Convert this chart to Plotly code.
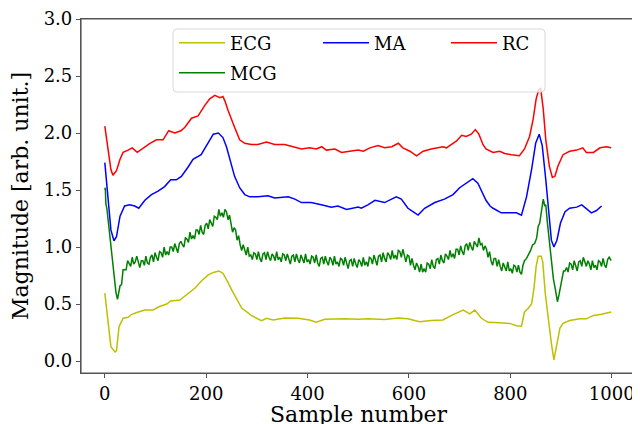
import plotly.graph_objects as go

# ---------------- data ----------------
ecg_x = [0, 12, 20, 23, 28, 36, 46, 53, 66, 79, 95, 108, 122, 130, 148, 161, 178, 190, 204, 214,
         225, 233, 237, 243, 250, 270, 289, 309, 319, 332, 355, 381, 404, 417, 434, 454, 473, 500,
         519, 552, 579, 598, 621, 644, 667, 684, 694, 707, 720, 730, 743, 756, 779, 799, 812, 822,
         828, 835, 842, 847, 851, 855, 861, 864, 869, 875, 881, 886, 891, 898, 904, 917, 937, 950,
         964, 980, 999]
ecg_y = [0.595, 0.126, 0.08, 0.09, 0.30, 0.375, 0.384, 0.41, 0.43, 0.448, 0.448, 0.478, 0.50, 0.527,
         0.535, 0.58, 0.64, 0.70, 0.756, 0.777, 0.79, 0.77, 0.74, 0.69, 0.626, 0.465, 0.40, 0.355,
         0.375, 0.36, 0.378, 0.375, 0.36, 0.34, 0.367, 0.37, 0.37, 0.367, 0.37, 0.364, 0.378, 0.37,
         0.345, 0.355, 0.36, 0.40, 0.42, 0.447, 0.413, 0.447, 0.375, 0.34, 0.335, 0.33, 0.31, 0.305,
         0.43, 0.46, 0.50, 0.65, 0.83, 0.92, 0.92, 0.87, 0.59, 0.36, 0.155, 0.01, 0.126, 0.29, 0.33,
         0.355, 0.37, 0.37, 0.40, 0.41, 0.43]

# MCG: fast initial drop, noisy body (every 3rd sample), QRS spike, noisy tail
mcg_head_x = [0, 1, 2, 4, 6, 8, 10, 13, 16, 19, 22, 25, 27]
mcg_head_y = [1.50, 1.52, 1.38, 1.34, 1.26, 1.17, 1.09, 0.96, 0.83, 0.70, 0.60, 0.54, 0.60]
mcg_body_x = list(range(30, 829, 3))
mcg_body_y = [
    0.66, 0.67, 0.80, 0.80, 0.80, 0.88, 0.86, 0.83, 0.91, 0.85,
    0.87, 0.92, 0.87, 0.82, 0.88, 0.88, 0.84, 0.92, 0.86, 0.85,
    0.91, 0.93, 0.87, 0.95, 0.91, 0.88, 0.96, 0.95, 0.91, 1.00,
    0.93, 0.96, 0.93, 1.00, 1.00, 0.96, 1.03, 0.98, 0.95, 1.03,
    1.05, 1.02, 1.00, 1.08, 1.07, 1.04, 1.13, 1.07, 1.10, 1.07,
    1.15, 1.15, 1.11, 1.19, 1.13, 1.11, 1.19, 1.21, 1.16, 1.24,
    1.20, 1.18, 1.27, 1.26, 1.24, 1.33, 1.27, 1.30, 1.26, 1.33,
    1.31, 1.24, 1.28, 1.19, 1.13, 1.17, 1.15, 1.06, 1.10, 1.02,
    0.97, 1.02, 0.98, 0.93, 1.00, 0.92, 0.93, 0.89, 0.95, 0.94,
    0.89, 0.96, 0.90, 0.87, 0.94, 0.95, 0.89, 0.96, 0.91, 0.88,
    0.94, 0.92, 0.88, 0.96, 0.89, 0.91, 0.87, 0.94, 0.93, 0.88,
    0.94, 0.88, 0.85, 0.92, 0.93, 0.87, 0.94, 0.89, 0.86, 0.93,
    0.90, 0.86, 0.94, 0.87, 0.89, 0.85, 0.92, 0.91, 0.86, 0.93,
    0.86, 0.83, 0.90, 0.91, 0.85, 0.92, 0.87, 0.84, 0.91, 0.89,
    0.84, 0.92, 0.85, 0.87, 0.83, 0.90, 0.89, 0.84, 0.91, 0.85,
    0.81, 0.88, 0.89, 0.83, 0.90, 0.85, 0.82, 0.89, 0.87, 0.83,
    0.91, 0.84, 0.87, 0.83, 0.91, 0.90, 0.85, 0.93, 0.87, 0.84,
    0.92, 0.93, 0.87, 0.95, 0.90, 0.87, 0.95, 0.93, 0.89, 0.97,
    0.90, 0.93, 0.89, 0.97, 0.96, 0.91, 0.98, 0.91, 0.87, 0.93,
    0.92, 0.84, 0.90, 0.84, 0.80, 0.86, 0.83, 0.78, 0.85, 0.78,
    0.81, 0.78, 0.86, 0.85, 0.81, 0.89, 0.83, 0.81, 0.89, 0.90,
    0.85, 0.93, 0.88, 0.86, 0.94, 0.92, 0.89, 0.97, 0.91, 0.94,
    0.90, 0.98, 0.98, 0.93, 1.01, 0.96, 0.93, 1.01, 1.03, 0.97,
    1.04, 1.00, 0.97, 1.05, 1.03, 1.00, 1.08, 1.02, 1.03, 0.97,
    1.01, 0.98, 0.91, 0.96, 0.88, 0.84, 0.90, 0.90, 0.83, 0.89,
    0.83, 0.79, 0.86, 0.83, 0.79, 0.87, 0.79, 0.81, 0.77, 0.84,
    0.83, 0.78, 0.84, 0.78, 0.76, 0.84, 0.88]
mcg_spike_x = [832, 836, 840, 844, 848, 852, 855, 858, 862, 865, 868, 870, 873, 876, 879, 882,
               885, 888, 891, 893, 896, 899, 902, 905]
mcg_spike_y = [0.90, 0.93, 0.97, 1.02, 1.03, 1.08, 1.18, 1.21, 1.33, 1.42, 1.36, 1.37, 1.22, 1.10,
               0.95, 0.82, 0.72, 0.65, 0.55, 0.52, 0.58, 0.66, 0.74, 0.79]
mcg_tail_x = list(range(908, 996, 3)) + [999]
mcg_tail_y = [0.79, 0.82, 0.78, 0.86, 0.85, 0.80, 0.88, 0.82, 0.79, 0.87,
              0.88, 0.83, 0.91, 0.87, 0.83, 0.88, 0.85, 0.80, 0.88, 0.82,
              0.84, 0.80, 0.88, 0.87, 0.83, 0.90, 0.84, 0.82, 0.89, 0.91,
              0.88]
mcg_x = mcg_head_x + mcg_body_x + mcg_spike_x + mcg_tail_x
mcg_y = mcg_head_y + mcg_body_y + mcg_spike_y + mcg_tail_y

ma_x = [0, 5, 12, 18, 23, 30, 39, 49, 59, 67, 79, 92, 105, 118, 130, 141, 151, 164, 174, 190,
        204, 214, 224, 233, 240, 247, 256, 266, 276, 286, 302, 322, 335, 362, 375, 388, 407, 427,
        447, 460, 477, 500, 506, 519, 533, 552, 566, 575, 585, 598, 608, 618, 631, 651, 670, 687,
        700, 713, 726, 736, 746, 752, 760, 766, 782, 799, 812, 822, 832, 842, 850, 857, 863, 870,
        877, 881, 886, 892, 899, 908, 917, 931, 941, 950, 960, 970, 980]
ma_y = [1.74, 1.47, 1.15, 1.055, 1.09, 1.27, 1.36, 1.37, 1.36, 1.34, 1.41, 1.46, 1.49, 1.53, 1.59,
        1.59, 1.62, 1.70, 1.77, 1.81, 1.91, 1.99, 2.00, 1.96, 1.88, 1.77, 1.62, 1.52, 1.46, 1.44,
        1.44, 1.45, 1.43, 1.44, 1.42, 1.39, 1.39, 1.37, 1.35, 1.36, 1.33, 1.35, 1.34, 1.37, 1.41,
        1.39, 1.42, 1.44, 1.42, 1.34, 1.31, 1.28, 1.34, 1.39, 1.42, 1.46, 1.52, 1.56, 1.60, 1.56,
        1.46, 1.41, 1.36, 1.34, 1.30, 1.30, 1.30, 1.28, 1.44, 1.68, 1.91, 1.99, 1.89, 1.59, 1.24,
        1.06, 1.00, 1.06, 1.21, 1.31, 1.34, 1.35, 1.37, 1.34, 1.30, 1.32, 1.36]

rc_x = [0, 7, 12, 16, 23, 30, 36, 46, 54, 64, 76, 89, 102, 115, 126, 138, 150, 158, 171, 184,
        197, 207, 217, 227, 233, 237, 243, 247, 256, 266, 276, 289, 302, 319, 335, 355, 372, 388,
        404, 417, 428, 437, 454, 467, 483, 500, 510, 523, 539, 552, 566, 579, 588, 602, 615, 628,
        644, 657, 667, 674, 684, 694, 704, 713, 723, 731, 738, 746, 752, 766, 779, 789, 802, 818,
        828, 838, 845, 851, 856, 860, 865, 870, 877, 883, 888, 894, 904, 917, 931, 943, 950, 964,
        977, 990, 999]
rc_y = [2.06, 1.83, 1.68, 1.63, 1.67, 1.77, 1.83, 1.85, 1.87, 1.83, 1.87, 1.91, 1.94, 1.94, 2.02,
        2.00, 2.02, 2.05, 2.13, 2.15, 2.24, 2.30, 2.33, 2.31, 2.32, 2.28, 2.20, 2.15, 2.05, 1.94,
        1.91, 1.90, 1.90, 1.92, 1.90, 1.90, 1.88, 1.86, 1.87, 1.86, 1.88, 1.85, 1.86, 1.83, 1.84,
        1.85, 1.84, 1.87, 1.89, 1.87, 1.88, 1.91, 1.87, 1.84, 1.80, 1.84, 1.86, 1.87, 1.88, 1.87,
        1.90, 1.93, 1.98, 1.97, 1.99, 2.03, 1.99, 1.90, 1.86, 1.83, 1.84, 1.82, 1.81, 1.80, 1.86,
        1.97, 2.12, 2.30, 2.38, 2.39, 2.21, 1.94, 1.71, 1.61, 1.62, 1.71, 1.81, 1.84, 1.85, 1.87,
        1.83, 1.83, 1.87, 1.88, 1.87]

series_names = ["ECG", "MCG", "MA", "RC"]
x_ticks = [0, 200, 400, 600, 800, 1000]
y_ticks = [0.0, 0.5, 1.0, 1.5, 2.0, 2.5, 3.0]

# ---------------- figure ----------------
# The page body has an 8px margin, so the figure is drawn 8px in from the
# top-left corner of the 640x424 window.
OFF = 8
W, H = 640 - OFF, 424 - OFF
PL, PR, PT, PB = 81, 635, 19, 373          # plot area in window pixels
ML, MT = PL - OFF, PT - OFF
MR, MB = (OFF + W) - PR, (OFF + H) - PB
PW, PH = PR - PL, PB - PT


def px_x(p):
    return (p - PL) / PW


def px_y(p):
    return (PB - p) / PH


FONT = "DejaVu Serif"
SPINE = "#555555"
TICKLEN = 4
colors = {"ECG": "#bfbf00", "MCG": "#008000", "MA": "#0000ff", "RC": "#ff0000"}
legend_of = {"ECG": "legend", "MCG": "legend2", "MA": "legend3", "RC": "legend4"}
data = {"ECG": (ecg_x, ecg_y), "MCG": (mcg_x, mcg_y), "MA": (ma_x, ma_y), "RC": (rc_x, rc_y)}

fig = go.Figure()
for name in series_names:
    xs, ys = data[name]
    fig.add_trace(go.Scatter(x=xs, y=ys, mode="lines", name=name,
                             line=dict(color=colors[name], width=1.5),
                             legend=legend_of[name]))

leg_common = dict(bgcolor="rgba(0,0,0,0)", borderwidth=0, itemwidth=46,
                  font=dict(family=FONT, size=18, color="black"),
                  xanchor="left", yanchor="middle")
row1, row2 = px_y(43), px_y(73)
legends = {
    "legend": dict(x=px_x(174), y=row1, **leg_common),
    "legend2": dict(x=px_x(174), y=row2, **leg_common),
    "legend3": dict(x=px_x(318), y=row1, **leg_common),
    "legend4": dict(x=px_x(446), y=row1, **leg_common),
}

# rounded legend frame
x0, x1 = px_x(173), px_x(545)
y0, y1 = px_y(92), px_y(29)
rx, ry = 4 / PW, 4 / PH
path = (f"M{x0+rx},{y0} L{x1-rx},{y0} Q{x1},{y0} {x1},{y0+ry} L{x1},{y1-ry} Q{x1},{y1} {x1-rx},{y1} "
        f"L{x0+rx},{y1} Q{x0},{y1} {x0},{y1-ry} L{x0},{y0+ry} Q{x0},{y0} {x0+rx},{y0} Z")
fig.add_shape(type="path", path=path, xref="paper", yref="paper", layer="above",
              fillcolor="rgba(255,255,255,0.8)", line=dict(color="#d9d9d9", width=1))

# axes frame drawn as a path shape (same mechanism as the legend frame)
frame = "M0,0 L1,0 L1,1 L0,1 Z"
fig.add_shape(type="path", path=frame, xref="paper", yref="paper", layer="above",
              fillcolor="rgba(0,0,0,0)", line=dict(color=SPINE, width=1.2))

axis_common = dict(showline=True, linecolor=SPINE, linewidth=1.2, mirror=True,
                   ticks="outside", ticklen=TICKLEN, tickwidth=1.2,
                   tickcolor=SPINE, showgrid=False, zeroline=False,
                   tickfont=dict(family=FONT, size=18, color="black"))

fig.update_layout(
    width=W, height=H,
    margin=dict(l=ML, r=MR, t=MT, b=MB, autoexpand=False),
    paper_bgcolor="white", plot_bgcolor="white",
    xaxis=dict(range=[-47, 1046], tickvals=x_ticks, ticktext=[str(v) for v in x_ticks],
               automargin=False, **axis_common),
    yaxis=dict(range=[-0.105, 3.0], tickvals=y_ticks, ticktext=[f"{v:.1f}" for v in y_ticks],
               title=dict(text="Magnitude [arb. unit.]", font=dict(family=FONT, size=22, color="black"),
                          standoff=8),
               automargin=False, **axis_common),
    annotations=[dict(text="Sample number", xref="paper", yref="paper", x=0.5, y=px_y(415),
                      xanchor="center", yanchor="middle", showarrow=False,
                      font=dict(family=FONT, size=22, color="black"))],
    showlegend=True,
    **legends,
)

fig.write_html("out.html")
